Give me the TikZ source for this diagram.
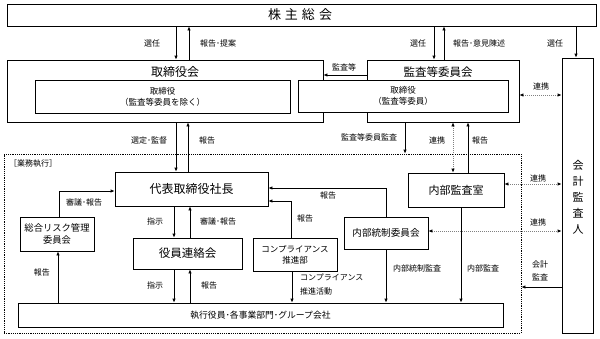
\documentclass[tikz,border=0pt]{standalone}
\usepackage{fontspec}
\setmainfont{Noto Sans CJK JP}
\usetikzlibrary{arrows.meta,calc}
\begin{document}
\begin{tikzpicture}[x=1pt,y=-1pt,
  box/.style={draw=black,line width=0.8pt,fill=white,inner sep=0pt,rectangle},
  arr/.style={line width=0.8pt,-{Latex[length=4pt,width=3.5pt]}},
  darr/.style={draw=gray,line width=0.8pt,dash pattern=on 1pt off 1pt,
    {Latex[length=4pt,width=3.5pt,black]}-{Latex[length=4pt,width=3.5pt,black]}},
  lbl/.style={font=\fontsize{8}{9}\selectfont,inner sep=0pt},
  f9/.style={font=\fontsize{8.5}{11}\selectfont,align=center},
  f12/.style={font=\fontsize{12}{14}\selectfont},
]
\useasboundingbox (0,0) rectangle (600,338);
% boxes
\node[box,minimum width=589pt,minimum height=22pt] (kabu) at (301.5,15) {};
\node[font=\fontsize{13}{15}\selectfont] (kabuT) at (300,15) {株\hspace{4pt}主\hspace{4pt}総\hspace{4pt}会};
\node[box,minimum width=316pt,minimum height=62pt] (tori) at (165,91) {};
\node[f12] (toriT) at (175,72) {取締役会};
\node[box,minimum width=152pt,minimum height=62pt] (kansa) at (443,91) {};
\node[f12,font=\fontsize{11.5}{14}\selectfont] (kansaT) at (438,72) {監査等委員会};
\node[box,minimum width=255pt,minimum height=33pt,f9] (toriIn) at (162.5,96.5) {取締役\\（監査等委員を除く）};
\node[box,minimum width=210pt,minimum height=32pt,f9] (kansaIn) at (403,96) {取締役\\（監査等委員）};
\node[box,minimum width=31pt,minimum height=275pt] (kaikei) at (577.5,195.5) {};
\node[font=\fontsize{11}{16}\selectfont,align=center] (kaikeiT) at (578,197) {会\\計\\監\\査\\人};
\node[draw=black,line width=0.8pt,dash pattern=on 1.2pt off 1pt,minimum width=517pt,minimum height=179pt,inner sep=0pt] (gyomu) at (262.5,243.5) {};
\node[lbl,anchor=west] (gyomuT) at (9,163) {［業務執行］};
\node[box,minimum width=153pt,minimum height=34pt,f12] (dai) at (191.5,189) {代表取締役社長};
\node[box,minimum width=74pt,minimum height=34pt,font=\fontsize{9.3}{12}\selectfont,align=center] (risk) at (57,234) {総合リスク管理\\委員会};
\node[box,minimum width=109pt,minimum height=31pt,font=\fontsize{11.5}{14}\selectfont] (yakuin) at (187.5,253.5) {役員連絡会};
\node[box,minimum width=84pt,minimum height=33pt,f9] (comp) at (295,254.5) {コンプライアンス\\推進部};
\node[box,minimum width=84pt,minimum height=32pt,font=\fontsize{9.6}{12}\selectfont] (tousei) at (386,233) {内部統制委員会};
\node[box,minimum width=96pt,minimum height=34pt,font=\fontsize{11}{14}\selectfont] (naibu) at (456,190) {内部監査室};
\node[box,minimum width=485pt,minimum height=24pt,font=\fontsize{8.8}{11}\selectfont] (shikko) at (260.5,315) {執行役員･各事業部門･グループ会社};
% connectors top
\draw[arr] (kabu.south -| 176,0) -- (tori.north -| 176,0);
\draw[arr] (tori.north -| 189,0) -- (kabu.south -| 189,0);
\draw[arr] (kabu.south -| 434,0) -- (kansa.north -| 434,0);
\draw[arr] (kansa.north -| 444,0) -- (kabu.south -| 444,0);
\draw[arr] (kabu.south -| 576,0) -- (kaikei.north -| 576,0);
\draw[arr] (kansa.west |- 0,75) -- (tori.east |- 0,75);
\draw[darr] (kansa.east |- 0,95) -- (kaikei.west |- 0,95);
% middle
\draw[arr] (tori.south -| 176,0) -- (dai.north -| 176,0);
\draw[arr] (dai.north -| 188,0) -- (tori.south -| 188,0);
\draw[arr] (kansa.south -| 405,0) -- (gyomu.north -| 405,0);
\draw[darr] (kansa.south -| 453,0) -- (naibu.north -| 453,0);
\draw[arr] (naibu.north -| 468,0) -- (kansa.south -| 468,0);
% inside
\draw[arr] (risk.north -| 59,0) |- (dai.west |- 0,191);
\draw[arr] (shikko.north -| 58,0) -- (risk.south -| 58,0);
\draw[arr] (dai.south -| 174,0) -- (yakuin.north -| 174,0);
\draw[arr] (yakuin.north -| 190,0) -- (dai.south -| 190,0);
\draw[arr] (yakuin.south -| 174,0) -- (shikko.north -| 174,0);
\draw[arr] (shikko.north -| 190,0) -- (yakuin.south -| 190,0);
\draw[arr] (comp.north -| 291,0) |- (dai.east |- 0,201);
\draw[arr] (comp.south -| 292,0) -- (shikko.north -| 292,0);
\draw[arr] (tousei.north -| 386,0) |- (dai.east |- 0,188);
\draw[arr] (tousei.south -| 386,0) -- (shikko.north -| 386,0);
\draw[arr] (naibu.south -| 461,0) -- (shikko.north -| 461,0);
\draw[darr] (naibu.east |- 0,184) -- (kaikei.west |- 0,184);
\draw[darr] (tousei.east |- 0,231) -- (kaikei.west |- 0,231);
\draw[arr] (kaikei.west |- 0,287) -- (gyomu.east |- 0,287);
% labels
\node[lbl] (l1) at (152,43) {選任};
\node[lbl] (l2) at (218,43) {報告･提案};
\node[lbl] (l3) at (418,43) {選任};
\node[lbl] (l4) at (479,43) {報告･意見陳述};
\node[lbl] (l5) at (555,43) {選任};
\node[lbl] (l6) at (344,67) {監査等};
\node[lbl] (l7) at (541,86) {連携};
\node[lbl] (l8) at (149,140) {選定･監督};
\node[lbl] (l9) at (207,140) {報告};
\node[lbl] (l10) at (369,137) {監査等委員監査};
\node[lbl] (l11) at (437,140) {連携};
\node[lbl] (l12) at (480,140) {報告};
\node[lbl] (l13) at (84,202) {審議･報告};
\node[lbl] (l14) at (42,272) {報告};
\node[lbl] (l15) at (155,221) {指示};
\node[lbl] (l16) at (218,221) {審議･報告};
\node[lbl] (l17) at (155,285) {指示};
\node[lbl] (l18) at (209,285) {報告};
\node[lbl] (l19) at (305,218) {報告};
\node[lbl] (l20) at (328,195) {報告};
\node[lbl,anchor=west,align=left,font=\fontsize{8}{14}\selectfont] (l21) at (300,285) {コンプライアンス\\推進活動};
\node[lbl] (l22) at (417,268) {内部統制監査};
\node[lbl] (l23) at (483,268) {内部監査};
\node[lbl] (l24) at (538,178) {連携};
\node[lbl] (l25) at (538,222) {連携};
\node[lbl,align=center,font=\fontsize{8}{13}\selectfont] (l26) at (540,270.5) {会計\\監査};
\end{tikzpicture}
\end{document}
